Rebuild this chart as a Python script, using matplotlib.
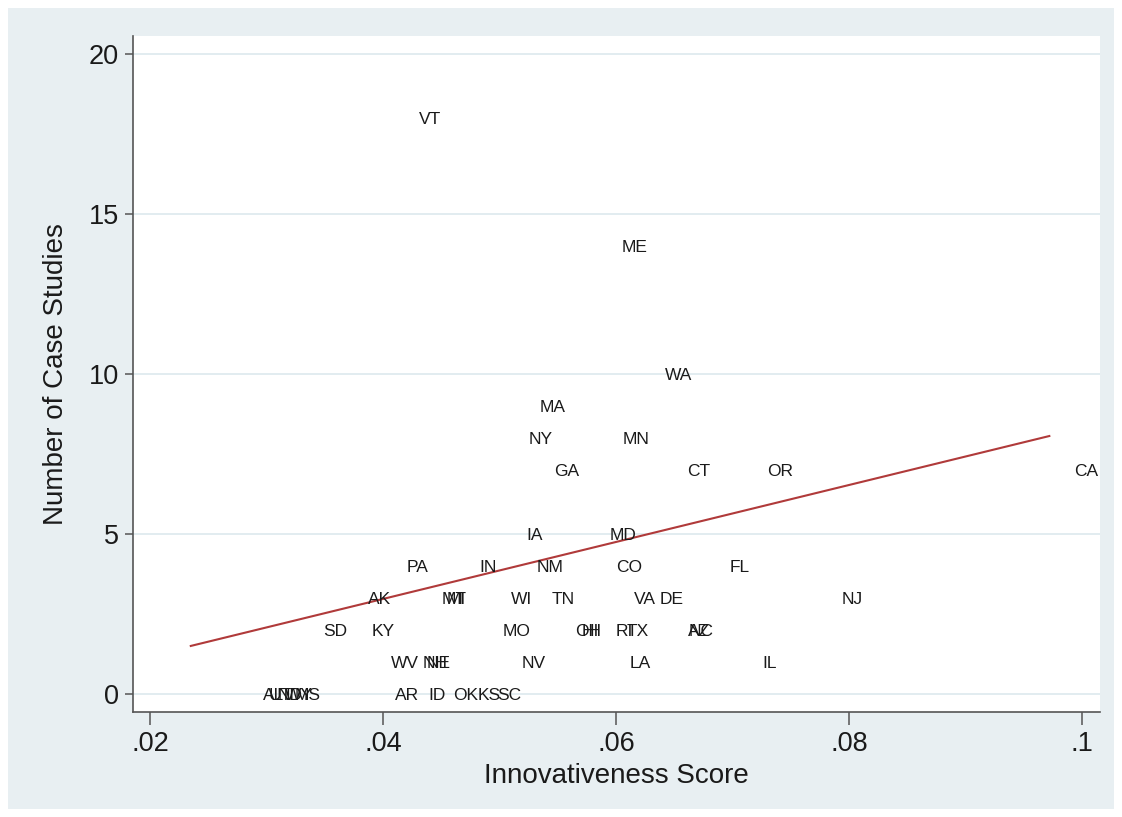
import matplotlib
matplotlib.use("Agg")
import matplotlib.pyplot as plt
from matplotlib.patches import Rectangle
import numpy as np

plt.rcParams['font.family'] = ['Liberation Sans', 'DejaVu Sans']

states = ["VT", "ME", "WA", "MA", "NY", "MN", "GA", "CT", "OR", "CA",
          "IA", "MD", "PA", "IN", "NM", "CO", "FL",
          "AK", "MT", "MI", "WI", "TN", "VA", "DE", "NJ",
          "SD", "KY", "MO", "OH", "HI", "RI", "TX", "AZ", "NC",
          "WV", "NH", "NE", "NV", "LA", "IL",
          "AL", "UT", "ND", "WY", "MS", "AR", "ID", "OK", "KS", "SC"]
innovativeness = [0.0440, 0.0616, 0.0654, 0.0546, 0.0535, 0.0617, 0.0558, 0.0671, 0.0741, 0.1004,
                  0.0530, 0.0606, 0.0430, 0.0490, 0.0543, 0.0611, 0.0706,
                  0.0397, 0.0461, 0.0463, 0.0519, 0.0555, 0.0625, 0.0648, 0.0803,
                  0.0359, 0.0400, 0.0515, 0.0576, 0.0578, 0.0607, 0.0619, 0.0671, 0.0673,
                  0.0419, 0.0445, 0.0448, 0.0529, 0.0621, 0.0732,
                  0.0306, 0.0312, 0.0320, 0.0328, 0.0335, 0.0421, 0.0446, 0.0471, 0.0491, 0.0508]
case_studies = [18, 14, 10, 9, 8, 8, 7, 7, 7, 7,
                5, 5, 4, 4, 4, 4, 4,
                3, 3, 3, 3, 3, 3, 3, 3,
                2, 2, 2, 2, 2, 2, 2, 2, 2,
                1, 1, 1, 1, 1, 1,
                0, 0, 0, 0, 0, 0, 0, 0, 0, 0]

# Fitted line
fit_intercept = -0.59
fit_slope = 89.0
fit_x_range = [0.0235, 0.0972]

x_ticks = [0.02, 0.04, 0.06, 0.08, 0.10]
x_tick_labels = [".02", ".04", ".06", ".08", ".1"]
y_ticks = [0, 5, 10, 15, 20]

W, H = 1122, 817
fig = plt.figure(figsize=(W / 100, H / 100), dpi=100, facecolor="white")
bg = "#e8eff2"
fig.patches.append(Rectangle((8 / W, 8 / H), 1 - 16 / W, 1 - 16 / H,
                             transform=fig.transFigure, facecolor=bg,
                             edgecolor="none", zorder=-10))

ax = fig.add_axes([133 / W, 1 - 712 / H, (1100 - 133) / W, (712 - 36) / H])
ax.set_facecolor("white")

ax.set_xlim(0.01854, 0.10155)
ax.set_ylim(-0.5625, 20.56)

for yv in y_ticks:
    ax.axhline(yv, color="#e2ecf0", lw=1.4, zorder=0)

for s, xv, yv in zip(states, innovativeness, case_studies):
    ax.text(xv, yv, s, ha="center", va="center_baseline", fontsize=12.5, color="#1a1a1a", zorder=3)

fx = np.array(fit_x_range)
ax.plot(fx, fit_intercept + fit_slope * fx, color="#b03a3a", lw=1.5, zorder=2)

for sp in ["top", "right"]:
    ax.spines[sp].set_visible(False)
for sp in ["left", "bottom"]:
    ax.spines[sp].set_color("#555555")
    ax.spines[sp].set_linewidth(1.2)

ax.set_xticks(x_ticks)
ax.set_xticklabels(x_tick_labels)
ax.set_yticks(y_ticks)
ax.tick_params(axis="x", length=9, width=1.1, color="#555555", labelsize=19.5, pad=5, labelcolor="#1a1a1a")
ax.tick_params(axis="y", length=6, width=1.1, color="#555555", labelsize=19.5, pad=4, labelcolor="#1a1a1a")

ax.set_xlabel("Innovativeness Score", fontsize=20, color="#1a1a1a", labelpad=4)
ax.set_ylabel("Number of Case Studies", fontsize=20, color="#1a1a1a", labelpad=14)

fig.savefig("out.png", dpi=100, facecolor="white")
